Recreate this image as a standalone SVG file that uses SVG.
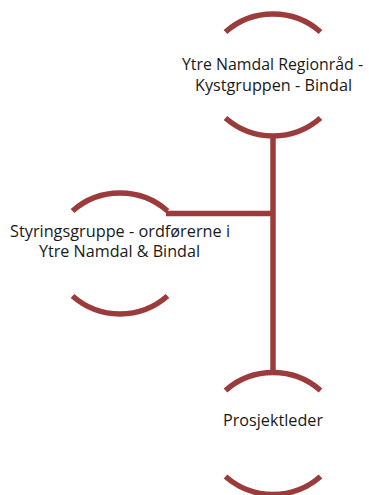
<svg xmlns="http://www.w3.org/2000/svg" width="369" height="495" viewBox="0 0 369 495">
<style>
.arc{fill:none;stroke:#9C3B3B;stroke-width:5.5}
.con{fill:none;stroke:#9C3B3B;stroke-width:5.5}
text{font-family:"Open Sans","Liberation Sans",sans-serif;font-size:15.5px;fill:#1a1a1a;text-anchor:middle}
</style>
<rect width="369" height="495" fill="#ffffff"/>
<g id="connectors">
<path class="con" d="M273 135 V372"/>
<path class="con" d="M166 213.5 H273"/>
</g>
<g id="node-regionrad">
<path class="arc" d="M225.5 32 A72 72 0 0 1 320.5 32"/>
<path class="arc" d="M225.5 118 A72 72 0 0 0 320.5 118"/>
<text x="272.5" y="70" textLength="181" lengthAdjust="spacingAndGlyphs">Ytre Namdal Regionråd -</text>
<text x="273.5" y="90.5" textLength="157" lengthAdjust="spacingAndGlyphs">Kystgruppen - Bindal</text>
</g>
<g id="node-styringsgruppe">
<path class="arc" d="M72.5 211 A72 72 0 0 1 167.5 211"/>
<path class="arc" d="M72.5 296 A72 72 0 0 0 167.5 296"/>
<text x="120" y="236.5" textLength="220" lengthAdjust="spacingAndGlyphs">Styringsgruppe - ordførerne i</text>
<text x="119.5" y="257" textLength="161" lengthAdjust="spacingAndGlyphs">Ytre Namdal &amp; Bindal</text>
</g>
<g id="node-prosjektleder">
<path class="arc" d="M225.5 390.5 A72 72 0 0 1 320.5 390.5"/>
<path class="arc" d="M225.5 476.5 A72 72 0 0 0 320.5 476.5"/>
<text x="273" y="425.5" textLength="100" lengthAdjust="spacingAndGlyphs">Prosjektleder</text>
</g>
</svg>
